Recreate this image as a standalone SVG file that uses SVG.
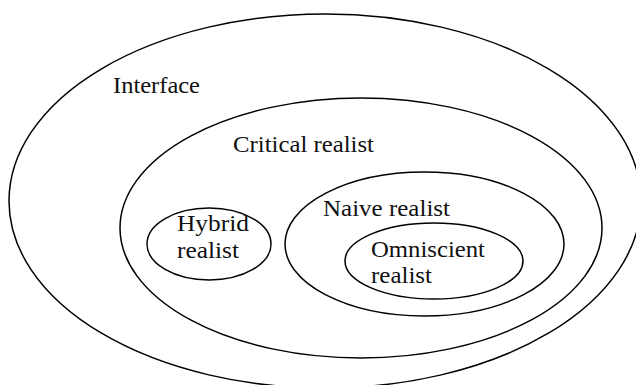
<svg xmlns="http://www.w3.org/2000/svg" width="636" height="385" viewBox="0 0 636 385">
<style>
ellipse{fill:none;stroke:#000;stroke-width:1.5}
text{font-family:"Liberation Serif","Times New Roman",serif;font-size:24px;fill:#111}
</style>
<rect width="636" height="385" fill="#fff"/>
<g id="interface">
<ellipse cx="325" cy="201" rx="316" ry="187"/>
<text x="113" y="93" textLength="87" lengthAdjust="spacingAndGlyphs">Interface</text>
</g>
<g id="critical-realist">
<ellipse cx="361" cy="228" rx="241" ry="130"/>
<text x="233" y="152" textLength="141" lengthAdjust="spacingAndGlyphs">Critical realist</text>
</g>
<g id="hybrid-realist">
<ellipse cx="209" cy="244" rx="62" ry="36"/>
<text x="177" y="231" textLength="72" lengthAdjust="spacingAndGlyphs">Hybrid</text>
<text x="177" y="258" textLength="62" lengthAdjust="spacingAndGlyphs">realist</text>
</g>
<g id="naive-realist">
<ellipse cx="424.5" cy="244" rx="139.5" ry="72"/>
<text x="323" y="216" textLength="127" lengthAdjust="spacingAndGlyphs">Naive realist</text>
</g>
<g id="omniscient-realist">
<ellipse cx="434" cy="261" rx="89" ry="38"/>
<text x="371" y="257" textLength="114" lengthAdjust="spacingAndGlyphs">Omniscient</text>
<text x="371" y="283" textLength="61" lengthAdjust="spacingAndGlyphs">realist</text>
</g>
</svg>
